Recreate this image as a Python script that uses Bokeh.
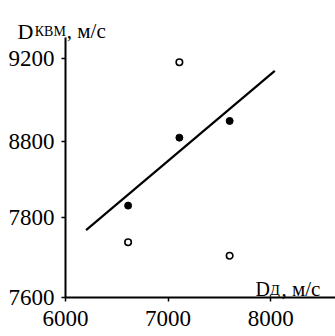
from bokeh.plotting import figure
from bokeh.models import FixedTicker, Label, Range1d
from bokeh.embed import file_html
from bokeh.resources import INLINE

# ---- data ----
filled_x = [6610, 7110, 7600]
filled_y = [8216, 8672, 8784]
open_x = [6610, 7110, 7600]
open_y = [7970, 9178, 7880]
fit_x = [6200, 8040]
fit_y = [8051, 9120]

x_ticks = [6000, 7000, 8000]
x_tick_labels = ["6000", "7000", "8000"]
y_ticks = [7600, 8135, 8647, 9200]
y_tick_labels = ["7600", "7800", "8800", "9200"]

FONT = "Liberation Serif"
X0, X1 = 6000, 8632      # drawn extent of the x axis
Y0, Y1 = 7600, 9344      # drawn extent of the y axis

p = figure(width=335, height=336, output_backend="svg", toolbar_location=None,
           x_range=Range1d(5366, 8632), y_range=Range1d(7338, 9592),
           min_border_left=0, min_border_right=0, min_border_top=0, min_border_bottom=0)
p.outline_line_color = None
p.xgrid.visible = False
p.ygrid.visible = False
p.background_fill_color = "white"

p.line(fit_x, fit_y, line_color="black", line_width=2.2)
p.scatter(filled_x, filled_y, size=7, marker="circle", fill_color="black", line_color="black")
p.scatter(open_x, open_y, size=6.5, marker="circle", fill_color="white", line_color="black", line_width=1.6)

for ax in (p.xaxis[0], p.yaxis[0]):
    ax.axis_line_color = "black"
    ax.axis_line_width = 2
    ax.major_tick_line_color = "black"
    ax.major_tick_line_width = 1.5
    ax.major_tick_out = 4
    ax.major_tick_in = 0
    ax.minor_tick_line_color = None
    ax.major_label_text_font = FONT
    ax.major_label_text_font_size = "23px"
    ax.major_label_text_color = "black"

p.xaxis.fixed_location = Y0
p.xaxis.bounds = (X0, X1)
p.xaxis.ticker = FixedTicker(ticks=x_ticks)
p.xaxis.major_label_overrides = {t: l for t, l in zip(x_ticks, x_tick_labels)}
p.xaxis.major_label_standoff = 10

p.yaxis.fixed_location = X0
p.yaxis.bounds = (Y0, Y1)
p.yaxis.ticker = FixedTicker(ticks=y_ticks)
p.yaxis.major_label_overrides = {t: l for t, l in zip(y_ticks, y_tick_labels)}
p.yaxis.major_label_standoff = 7

def lab(x, y, text, size):
    p.add_layout(Label(x=x, y=y, text=text, text_font=FONT, text_font_size=size,
                       text_color="black", text_align="left", text_baseline="alphabetic"))

# y-axis title  D_КВМ, м/с
lab(5532, 9386, "D", "22px")
lab(5700, 9381, "КВМ", "14px")
lab(6012, 9386, ", м/с", "21px")
# x-axis title  D_Д, м/с
lab(7852, 7660, "D", "20px")
lab(7992, 7652, "Д", "15px")
lab(8105, 7660, ", м/с", "21px")

open("out.html", "w").write(file_html(p, INLINE))
